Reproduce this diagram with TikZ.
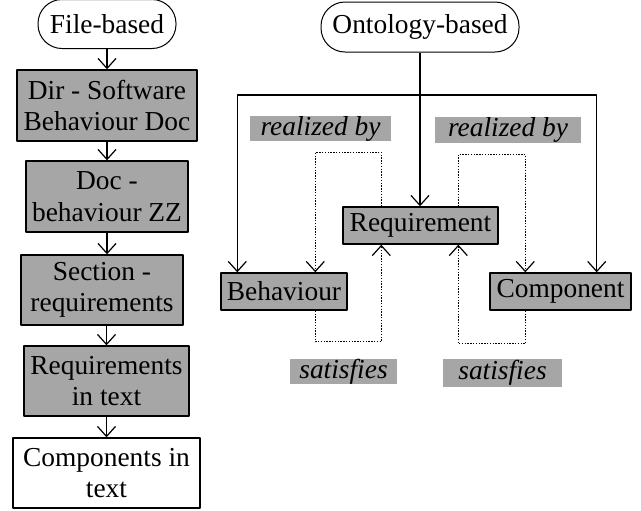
\documentclass[tikz,border=0pt]{standalone}
\usepackage{fontspec}
\setmainfont{Liberation Serif}
\usepackage{xcolor}
\usepackage{tikz}
\usetikzlibrary{calc, positioning, arrows.meta}
\definecolor{ForegroundColour}{HTML}{000000}
\definecolor{BoxGrey}{HTML}{A6A6A6}
\tikzset{
    every node/.style = {font = \fontsize{13.7}{15.8}\selectfont, align = center, inner sep = 0pt},
    box/.style = {draw = ForegroundColour, line width = 0.7pt, fill = BoxGrey},
    plainbox/.style = {draw = ForegroundColour, line width = 0.7pt, fill = white},
    pill/.style = {draw = ForegroundColour, line width = 0.5pt, rounded corners = 12pt},
    tag/.style = {fill = BoxGrey, font = \fontsize{13.7}{15.8}\selectfont\itshape},
    flow/.style = {line width = 0.6pt, -{Straight Barb[length = 5pt, width = 9pt]}},
    loop/.style = {flow, dash pattern = on 0.7pt off 0.7pt}
}
\begin{document}
\begin{tikzpicture}[x = 0.5pt, y = -0.5pt, line join = round]
    \useasboundingbox (0, 0) rectangle (641, 510);

    % file-based side
    \node[pill, minimum width = 69pt, minimum height = 24.5pt] (file) at (107, 24) {File-based};
    \node[box, minimum width = 90pt, minimum height = 35.5pt] (dir) at (107, 105.5) {Dir - Software\\Behaviour Doc};
    \node[box, minimum width = 81pt, minimum height = 35.5pt] (doc) at (107, 196.5) {Doc -\\behaviour ZZ};
    \node[box, minimum width = 81pt, minimum height = 35pt] (section) at (102, 290) {Section -\\requirements};
    \node[box, minimum width = 82.5pt, minimum height = 35pt] (reqtext) at (106.5, 381) {Requirements\\in text};
    \node[plainbox, minimum width = 93.5pt, minimum height = 35pt] (comptext) at (106.5, 473) {Components in\\text};

    \draw[flow] (file) -- (dir);
    \draw[flow] (dir) -- (doc);
    \draw[flow] (doc) -- (section.north -| doc.south);
    \draw[flow] (section.south -| reqtext.north) -- (reqtext);
    \draw[flow] (reqtext) -- (comptext);

    % ontology-based side
    \node[pill, minimum width = 99pt, minimum height = 25pt] (onto) at (420, 27) {Ontology-based};
    \node[box, minimum width = 77.5pt, minimum height = 18.5pt] (requirement) at (420.5, 225.5) {Requirement};
    \node[box, minimum width = 63pt, minimum height = 18.5pt] (behaviour) at (284, 291.5) {Behaviour};
    \node[box, minimum width = 70.5pt, minimum height = 18.5pt] (component) at (560.5, 291.5) {Component};

    \node[tag, minimum width = 70.5pt, minimum height = 12.5pt] (realized1) at (320.5, 128.5) {realized by};
    \node[tag, minimum width = 73pt, minimum height = 13pt] (realized2) at (508, 130) {realized by};
    \node[tag, minimum width = 53.5pt, minimum height = 12.5pt] (satisfies1) at (343.5, 371.5) {satisfies};
    \node[tag, minimum width = 59.5pt, minimum height = 14pt] (satisfies2) at (502.5, 373) {satisfies};

    \coordinate (split) at (onto.south |- 0, 95);
    \draw[flow] (onto.south) -- (onto.south |- requirement.north);
    \draw[flow] (split) -| ([xshift = 8.5pt]behaviour.north west);
    \draw[flow] (split) -| ([xshift = -17.5pt]component.north east);

    \draw[loop] ([xshift = 19.5pt]requirement.north west) -- ++(0, -54) -| ([xshift = 47.5pt]behaviour.north west);
    \draw[loop] ([xshift = 47.5pt]behaviour.south west) -- ++(0, 31) -| ([xshift = 19.5pt]requirement.south west);
    \draw[loop] ([xshift = 58pt]requirement.north west) -- ++(0, -52) -| ([xshift = 18pt]component.north west);
    \draw[loop] ([xshift = 18pt]component.south west) -- ++(0, 33) -| ([xshift = 58pt]requirement.south west);
\end{tikzpicture}
\end{document}
